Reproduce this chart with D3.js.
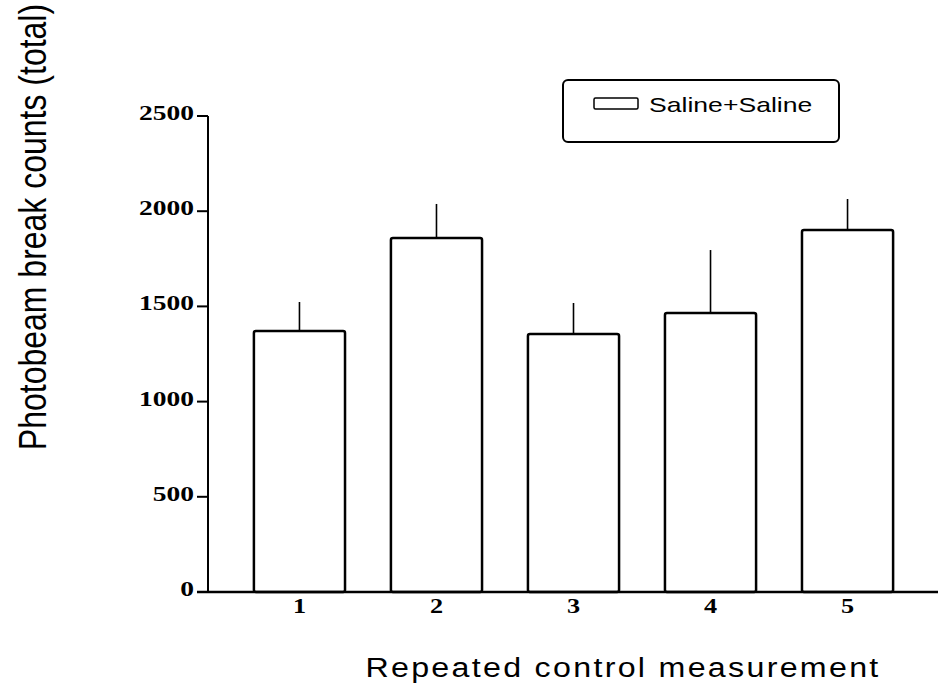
<!DOCTYPE html>
<html>
<head>
<meta charset="utf-8">
<script src="https://cdn.jsdelivr.net/npm/d3@7"></script>
<style>
  html, body { margin: 0; padding: 0; background: #fff; }
  svg { display: block; }
</style>
</head>
<body>
<svg id="chart" width="938" height="688"></svg>
<script>
// Repeated control measurements (Saline+Saline), mean photobeam breaks and SEM
const categories = ["1", "2", "3", "4", "5"];
const means = [1371, 1859, 1355, 1465, 1901];
const sems = [152, 179, 163, 331, 163];
const yTicks = [0, 500, 1000, 1500, 2000, 2500];
const seriesName = "Saline+Saline";

const svg = d3.select("#chart");
const serif = "'Liberation Serif', 'Times New Roman', serif";
const sans = "'Liberation Sans', Arial, sans-serif";

const x = d3.scaleBand().domain(categories).range([208, 939]).padding(0.335);
const y = d3.scaleLinear().domain([0, 2500]).range([592, 116]);

// y axis: vertical line plus short left-pointing ticks
const yAxis = svg.append("g");
yAxis.append("line")
  .attr("x1", 208).attr("x2", 208)
  .attr("y1", y(2500)).attr("y2", y(0))
  .attr("stroke", "#000").attr("stroke-width", 2);
yAxis.selectAll("line.tick").data(yTicks).join("line")
  .attr("class", "tick")
  .attr("x1", 197).attr("x2", 208)
  .attr("y1", d => y(d)).attr("y2", d => y(d))
  .attr("stroke", "#000").attr("stroke-width", 2);
yAxis.selectAll("text").data(yTicks).join("text")
  .attr("transform", d => `translate(194,${y(d) + 4}) scale(1.25,1)`)
  .attr("text-anchor", "end")
  .attr("font-family", serif).attr("font-weight", "bold").attr("font-size", 22)
  .text(d => d);

// bars
svg.append("g").selectAll("rect").data(means).join("rect")
  .attr("x", (d, i) => x(categories[i]))
  .attr("y", d => y(d))
  .attr("width", x.bandwidth())
  .attr("height", d => y(0) - y(d))
  .attr("rx", 2)
  .attr("fill", "#fff").attr("stroke", "#000").attr("stroke-width", 2.5);

// upper error whiskers
svg.append("g").selectAll("line").data(means).join("line")
  .attr("x1", (d, i) => x(categories[i]) + x.bandwidth() / 2)
  .attr("x2", (d, i) => x(categories[i]) + x.bandwidth() / 2)
  .attr("y1", d => y(d))
  .attr("y2", (d, i) => y(d + sems[i]))
  .attr("stroke", "#000").attr("stroke-width", 1.6);

// x axis baseline
svg.append("line")
  .attr("x1", 197).attr("x2", 938)
  .attr("y1", y(0)).attr("y2", y(0))
  .attr("stroke", "#000").attr("stroke-width", 2.5);

svg.append("g").selectAll("text").data(categories).join("text")
  .attr("transform", d => `translate(${x(d) + x.bandwidth() / 2},613) scale(1.25,1)`)
  .attr("text-anchor", "middle")
  .attr("font-family", serif).attr("font-weight", "bold").attr("font-size", 21)
  .text(d => d);

// axis titles
svg.append("text")
  .attr("transform", "translate(623,677) scale(1.15,1)")
  .attr("text-anchor", "middle")
  .attr("font-family", sans).attr("font-size", 28)
  .attr("letter-spacing", 2)
  .text("Repeated control measurement");

svg.append("text")
  .attr("transform", "translate(46,227) scale(1.2,1) rotate(-90)")
  .attr("text-anchor", "middle")
  .attr("font-family", sans).attr("font-size", 32)
  .text("Photobeam break counts (total)");

// legend
const legend = svg.append("g");
legend.append("rect")
  .attr("x", 563).attr("y", 80).attr("width", 276).attr("height", 62)
  .attr("rx", 5)
  .attr("fill", "#fff").attr("stroke", "#000").attr("stroke-width", 2);
legend.append("rect")
  .attr("x", 594).attr("y", 98).attr("width", 44).attr("height", 11)
  .attr("rx", 1.5)
  .attr("fill", "#fff").attr("stroke", "#000").attr("stroke-width", 1.5);
legend.append("text")
  .attr("transform", "translate(649,112) scale(1.33,1)")
  .attr("font-family", sans).attr("font-size", 20)
  .text(seriesName);
</script>
</body>
</html>
